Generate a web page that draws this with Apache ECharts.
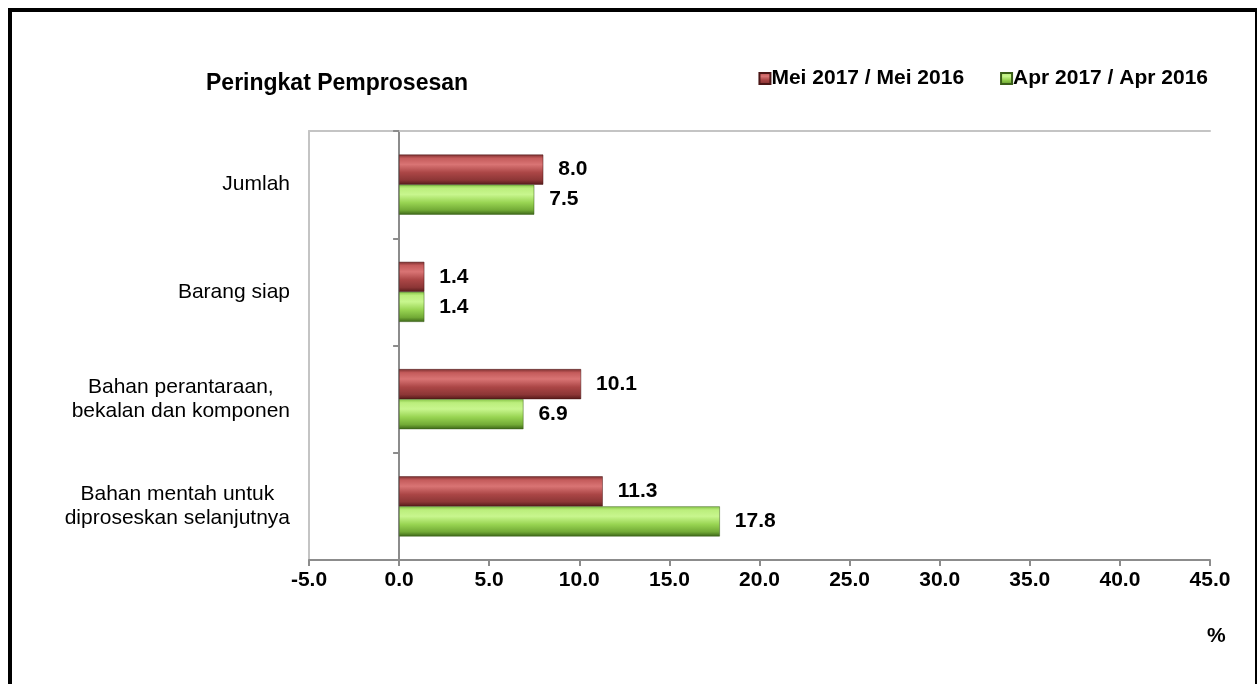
<!DOCTYPE html>
<html>
<head>
<meta charset="utf-8">
<script src="https://cdn.jsdelivr.net/npm/echarts@6/dist/echarts.min.js"></script>
<style>
    html, body { margin: 0; padding: 0; background: #fff; }
    #frame {
        position: absolute; left: 8px; top: 8px; width: 1243px; height: 690px;
        border-left: 4px solid #000; border-top: 4px solid #000; border-right: 2px solid #000;
    }
    #chart { position: absolute; left: 0; top: 0; width: 1257px; height: 684px; }
</style>
</head>
<body>
<div id="frame"></div>
<div id="chart"></div>
<script>
    // kategori dari atas ke bawah
    const categories = [
        "Jumlah",
        "Barang siap",
        "Bahan perantaraan,\nbekalan dan komponen",
        "Bahan mentah untuk\ndiproseskan selanjutnya"
    ];
    const seriesNames = ["Mei 2017 / Mei 2016", "Apr 2017 / Apr 2016"];
    const meiValues = [8.0, 1.4, 10.1, 11.3];
    const aprValues = [7.5, 1.4, 6.9, 17.8];
    const axisMin = -5, axisMax = 45, axisStep = 5;

    const font = "'Liberation Sans', Arial, sans-serif";

    const redFill = {
        type: "linear", x: 0, y: 0, x2: 0, y2: 1,
        colorStops: [
            { offset: 0, color: "#7c2f2f" },
            { offset: 0.12, color: "#c45b5b" },
            { offset: 0.33, color: "#d97474" },
            { offset: 0.6, color: "#ab4646" },
            { offset: 0.85, color: "#8c3636" },
            { offset: 1, color: "#561a1a" }
        ]
    };
    const greenFill = {
        type: "linear", x: 0, y: 0, x2: 0, y2: 1,
        colorStops: [
            { offset: 0, color: "#86c446" },
            { offset: 0.12, color: "#bbee7c" },
            { offset: 0.33, color: "#c8f68e" },
            { offset: 0.6, color: "#98d452" },
            { offset: 0.85, color: "#72aa36" },
            { offset: 1, color: "#3c6618" }
        ]
    };

    const myChart = echarts.init(document.getElementById("chart"));

    const valueLabel = {
        show: true,
        position: "right",
        distance: 15,
        color: "#000",
        fontFamily: font,
        fontWeight: "bold",
        fontSize: 21,
        formatter: p => p.value.toFixed(1)
    };

    const option = {
        backgroundColor: "transparent",
        animation: false,
        title: [{
            text: "Peringkat Pemprosesan",
            left: 201,
            top: 67,
            textStyle: { fontFamily: font, fontWeight: "bold", fontSize: 23, color: "#000" }
        }, {
            text: "%",
            left: 1202,
            top: 621,
            textStyle: { fontFamily: font, fontWeight: "bold", fontSize: 21, color: "#000" }
        }],
        legend: {
            data: seriesNames,
            right: 44,
            top: 63,
            itemWidth: 11,
            itemHeight: 11,
            itemGap: 36,
            icon: "rect",
            textStyle: { fontFamily: font, fontWeight: "bold", fontSize: 21, color: "#000", padding: [0, 0, 0, -4] }
        },
        grid: {
            left: 309,
            right: 47,
            top: 131,
            bottom: 124,
            containLabel: false
        },
        xAxis: [{
            type: "value",
            min: axisMin,
            max: axisMax,
            interval: axisStep,
            axisLine: { show: true, onZero: false, lineStyle: { color: "#8c8c8c", width: 2 } },
            axisTick: { show: true, length: 6, lineStyle: { color: "#8c8c8c", width: 2 } },
            splitLine: { show: false },
            axisLabel: {
                margin: 10,
                color: "#000",
                fontFamily: font,
                fontWeight: "bold",
                fontSize: 21,
                formatter: v => v.toFixed(1)
            }
        }, {
            type: "value",
            position: "top",
            min: axisMin,
            max: axisMax,
            axisLine: { show: true, onZero: false, lineStyle: { color: "#c4c4c4", width: 2 } },
            axisTick: { show: false },
            axisLabel: { show: false },
            splitLine: { show: false }
        }],
        yAxis: [{
            // label axis at grid left
            type: "category",
            data: categories,
            inverse: true,
            position: "left",
            axisLine: { show: true, onZero: false, lineStyle: { color: "#c4c4c4", width: 2 } },
            axisTick: { show: false },
            axisLabel: {
                margin: 19,
                color: "#000",
                fontFamily: font,
                fontSize: 21,
                lineHeight: 24,
                align: "right",
                formatter: v => v.split("\n").map(s => "{c|" + s + "}").join("\n"),
                rich: {
                    c: { align: "center", fontFamily: font, fontSize: 21, lineHeight: 24, color: "#000" }
                }
            }
        }, {
            // axis line at zero
            type: "category",
            data: categories,
            inverse: true,
            position: "left",
            axisLine: { show: true, onZero: true, lineStyle: { color: "#8c8c8c", width: 2 } },
            axisTick: { show: true, length: 6, lineStyle: { color: "#8c8c8c", width: 2 } },
            axisLabel: { show: false }
        }],
        series: [{
            name: seriesNames[0],
            type: "bar",
            yAxisIndex: 1,
            data: meiValues,
            barGap: "0%",
            barCategoryGap: "44%",
            itemStyle: { color: redFill, borderColor: "#4a1616", borderWidth: 0.5 },
            label: valueLabel
        }, {
            name: seriesNames[1],
            type: "bar",
            yAxisIndex: 1,
            data: aprValues,
            barGap: "0%",
            barCategoryGap: "44%",
            itemStyle: { color: greenFill, borderColor: "#3a5e18", borderWidth: 0.5 },
            label: valueLabel
        }]
    };

    myChart.setOption(option);
    window.addEventListener("resize", () => myChart.resize(), false);
</script>
</body>
</html>
